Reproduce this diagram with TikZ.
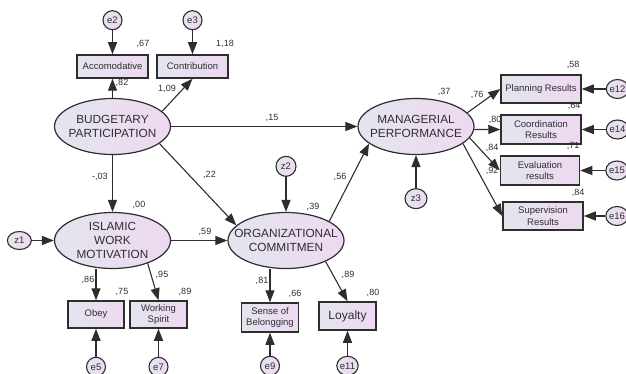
\documentclass[tikz,border=0pt]{standalone}
\usepackage{fontspec}
\setmainfont{Liberation Sans}
\usepackage{tikz}
\usetikzlibrary{arrows.meta, positioning, shapes.geometric}
\definecolor{inkgray}{HTML}{2E2E2E}
\definecolor{fillleft}{HTML}{E3E5EE}
\definecolor{fillright}{HTML}{EFD8F2}
\tikzset{
	>={Triangle[length=12pt, width=9pt]},
	fillgrad/.style={
		left color=fillleft,
		right color=fillright,
		draw=inkgray
	},
	latent/.style={
		fillgrad,
		ellipse,
		line width=1.2pt,
		minimum width=116pt,
		minimum height=56pt,
		inner xsep=-14pt,
		inner ysep=0pt,
		align=center,
		text=inkgray,
		font=\fontsize{11.8}{14}\selectfont
	},
	indicator/.style={
		fillgrad,
		rectangle,
		line width=1.5pt,
		inner sep=1pt,
		align=center,
		text=inkgray,
		font=\fontsize{9.5}{11.5}\selectfont
	},
	residual/.style={
		fillgrad,
		ellipse,
		line width=1.1pt,
		minimum width=19pt,
		minimum height=19pt,
		inner sep=0pt,
		text=inkgray,
		font=\fontsize{9.5}{10}\selectfont
	},
	est/.style={
		text=inkgray,
		inner sep=0pt,
		font=\fontsize{9}{10}\selectfont
	},
	effect/.style={
		->,
		draw=inkgray,
		line width=1.1pt
	}
}

\begin{document}
\begin{tikzpicture}[x=1pt, y=-1pt]
\useasboundingbox (0,0) rectangle (626,374);

% latent variables
\node[latent] (bp) at (112.5,126.5) {BUDGETARY\\PARTICIPATION};
\node[latent] (iwm) at (112.5,240.5) {ISLAMIC\\WORK\\MOTIVATION};
\node[latent] (oc) at (286,240.5) {ORGANIZATIONAL\\COMMITMEN};
\node[latent] (mp) at (416,126.5) {MANAGERIAL\\PERFORMANCE};

% indicators
\node[indicator, minimum width=71pt, minimum height=23pt] (acc) at (112.5,66.5) {Accomodative};
\node[indicator, minimum width=71pt, minimum height=23pt] (con) at (192.5,66.5) {Contribution};
\node[indicator, minimum width=56pt, minimum height=27pt] (obey) at (96,314.5) {Obey};
\node[indicator, minimum width=57pt, minimum height=27pt] (ws) at (158.5,314.5) {Working\\Spirit};
\node[indicator, minimum width=57pt, minimum height=29pt] (sob) at (270,317.5) {Sense of\\Belongging};
\node[indicator, minimum width=57pt, minimum height=28pt, font=\fontsize{12}{14}\selectfont] (loy) at (347.5,316) {Loyalty};
\node[indicator, minimum width=80pt, minimum height=28pt] (pr) at (541,89) {Planning Results};
\node[indicator, minimum width=80pt, minimum height=29pt] (cr) at (541,129.5) {Coordination\\Results};
\node[indicator, minimum width=79pt, minimum height=29pt] (er) at (540,170.5) {Evaluation\\results};
\node[indicator, minimum width=80pt, minimum height=28pt] (sr) at (543,216) {Supervision\\Results};

% residuals
\node[residual, above=24pt of acc] (e2) {e2};
\node[residual, above=24pt of con] (e3) {e3};
\node[residual, minimum width=24pt, minimum height=18pt, left=22pt of iwm] (z1) {z1};
\node[residual, minimum width=20pt, minimum height=20pt, above=35pt of oc] (z2) {z2};
\node[residual, minimum width=22pt, minimum height=20pt, below=33pt of mp] (z3) {z3};
\node[residual, below=28pt of obey] (e5) {e5};
\node[residual, below=28pt of ws] (e7) {e7};
\node[residual, below=23pt of sob] (e9) {e9};
\node[residual, below=25pt of loy] (e11) {e11};
\node[residual, right=24pt of pr] (e12) {e12};
\node[residual, right=24pt of cr] (e14) {e14};
\node[residual, right=25pt of er] (e15) {e15};
\node[residual, right=21.5pt of sr] (e16) {e16};

% structural paths
\draw[effect] (bp) -- (acc);
\draw[effect] (bp.17) -- (con.south);
\draw[effect] (bp) -- (mp);
\draw[effect] (bp) -- (iwm);
\draw[effect] (bp.-20) -- (oc.163);
\draw[effect] (iwm) -- (oc);
\draw[effect] (oc.24) -- (mp.200);

% loadings
\draw[effect] (iwm.south -| obey) -- (obey);
\draw[effect] (iwm.-33) -- (ws.north);
\draw[effect] (oc.south -| sob) -- (sob);
\draw[effect] (oc.-28) -- (loy.north);
\draw[effect] (mp.15) -- (pr.west);
\draw[effect] (mp.-3) -- (cr.west);
\draw[effect] (mp.-12) -- (er.west);
\draw[effect] (mp.-20) -- (sr.west);

% errors
\draw[effect] (e2) -- (acc);
\draw[effect] (e3) -- (con);
\draw[effect] (z1) -- (iwm);
\draw[effect] (z2) -- (oc);
\draw[effect] (z3) -- (mp);
\draw[effect] (e5) -- (obey);
\draw[effect] (e7) -- (ws);
\draw[effect] (e9) -- (sob);
\draw[effect] (e11) -- (loy);
\draw[effect] (e12) -- (pr);
\draw[effect] (e14) -- (cr);
\draw[effect] (e15) -- (er);
\draw[effect] (e16) -- (sr);

% squared multiple correlations
\node[est] (acc-r) at (143,44) {,67};
\node[est] (con-r) at (225,44) {1,18};
\node[est] (iwm-r) at (139,205) {,00};
\node[est] (obey-r) at (122,292) {,75};
\node[est] (ws-r) at (185,292) {,89};
\node[est] (oc-r) at (313,207) {,39};
\node[est] (sob-r) at (295,294) {,66};
\node[est] (loy-r) at (373,293) {,80};
\node[est] (mp-r) at (444,92) {,37};
\node[est] (pr-r) at (573,65) {,58};
\node[est] (cr-r) at (574,106) {,64};
\node[est] (er-r) at (573,146) {,71};
\node[est] (sr-r) at (578,193) {,84};

% path weights
\node[est] (bp-acc) at (122,83) {,82};
\node[est] (bp-con) at (167,89) {1,09};
\node[est] (bp-mp) at (272,118) {,15};
\node[est] (bp-iwm) at (100,177) {-,03};
\node[est] (bp-oc) at (209.5,175) {,22};
\node[est] (iwm-oc) at (205,232) {,59};
\node[est] (iwm-obey) at (88,280) {,86};
\node[est] (iwm-ws) at (162,275) {,95};
\node[est] (oc-mp) at (340,177) {,56};
\node[est] (oc-sob) at (262,281) {,81};
\node[est] (oc-loy) at (348,275) {,89};
\node[est] (mp-pr) at (477,95) {,76};
\node[est] (mp-cr) at (495,120) {,80};
\node[est] (mp-er) at (492,148) {,84};
\node[est] (mp-sr) at (492,171) {,92};
\end{tikzpicture}
\end{document}
